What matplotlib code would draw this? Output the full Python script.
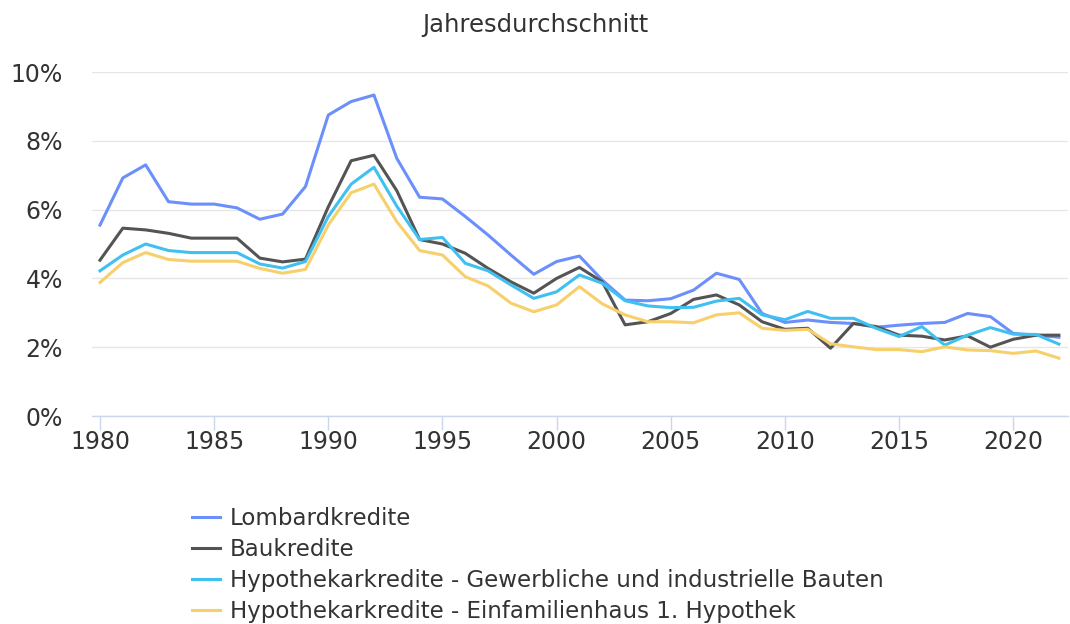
import matplotlib
matplotlib.use("Agg")
import matplotlib.pyplot as plt
from matplotlib.ticker import FuncFormatter

plt.rcParams['font.family'] = ['DejaVu Sans']

jahre = list(range(1980, 2023))

# Werte (in Prozent)
lombard = [5.55, 6.92, 7.30, 6.23, 6.16, 6.16, 6.05, 5.72, 5.87, 6.67,
           8.75, 9.14, 9.33, 7.49, 6.36, 6.31, 5.80, 5.26, 4.68, 4.12,
           4.49, 4.65, 3.95, 3.37, 3.35, 3.41, 3.66, 4.15, 3.97, 2.98,
           2.72, 2.79, 2.72, 2.69, 2.58, 2.64, 2.69, 2.72, 2.98, 2.89,
           2.40, 2.35, 2.29]
baukredite = [4.53, 5.46, 5.41, 5.31, 5.17, 5.17, 5.17, 4.59, 4.48, 4.56,
              6.08, 7.42, 7.58, 6.55, 5.13, 5.00, 4.73, 4.29, 3.90, 3.57,
              4.00, 4.32, 3.90, 2.65, 2.74, 2.98, 3.39, 3.52, 3.23, 2.74,
              2.52, 2.55, 1.97, 2.69, 2.60, 2.35, 2.32, 2.21, 2.33, 2.00,
              2.23, 2.35, 2.35]
gewerbe = [4.22, 4.68, 5.00, 4.81, 4.75, 4.75, 4.75, 4.42, 4.30, 4.49,
           5.80, 6.74, 7.23, 6.10, 5.13, 5.19, 4.44, 4.22, 3.81, 3.42,
           3.61, 4.10, 3.86, 3.35, 3.20, 3.15, 3.16, 3.34, 3.42, 2.94,
           2.80, 3.04, 2.84, 2.84, 2.55, 2.31, 2.60, 2.06, 2.35, 2.57,
           2.38, 2.37, 2.09]
einfamilienhaus = [3.88, 4.46, 4.75, 4.55, 4.50, 4.50, 4.50, 4.29, 4.15, 4.26,
                   5.55, 6.49, 6.74, 5.65, 4.81, 4.68, 4.05, 3.78, 3.28, 3.03,
                   3.23, 3.76, 3.26, 2.94, 2.74, 2.74, 2.71, 2.94, 3.00, 2.55,
                   2.49, 2.52, 2.10, 2.01, 1.93, 1.93, 1.87, 2.01, 1.92, 1.90,
                   1.82, 1.89, 1.68]

serien = [
    ("Lombardkredite", lombard, "#6b8ffb"),
    ("Baukredite", baukredite, "#545454"),
    ("Hypothekarkredite - Gewerbliche und industrielle Bauten", gewerbe, "#3fc0f0"),
    ("Hypothekarkredite - Einfamilienhaus 1. Hypothek", einfamilienhaus, "#f7cf6b"),
]

fig = plt.figure(figsize=(10.7, 6.24), dpi=100)
ax = fig.add_axes([92 / 1070, 1 - 416 / 624, 976 / 1070, 344 / 624])

for name, werte, farbe in serien:
    ax.plot(jahre, werte, color=farbe, linewidth=2.2, label=name, solid_joinstyle='round')

ax.set_xlim(1979.65, 2022.4)
ax.set_ylim(0, 10)
ax.set_yticks([0, 2, 4, 6, 8, 10])
ax.yaxis.set_major_formatter(FuncFormatter(lambda v, p: f"{v:.0f}%"))
ax.set_xticks(range(1980, 2021, 5))

ax.grid(axis='y', color='#e6e6e6', linewidth=1)
ax.set_axisbelow(True)
for s in ['top', 'right', 'left']:
    ax.spines[s].set_visible(False)
ax.spines['bottom'].set_color('#ccd6eb')
ax.spines['bottom'].set_linewidth(1)
ax.tick_params(axis='y', length=0, pad=21, labelsize=17, labelcolor='#333333')
ax.tick_params(axis='x', length=10, width=1, color='#ccd6eb', pad=0,
               labelsize=17, labelcolor='#333333')

fig.text(0.5, 1 - 25 / 624, "Jahresdurchschnitt", ha='center', va='center',
         fontsize=17.5, color='#333333')

fig.legend(loc='upper left', bbox_to_anchor=(171 / 1070, 1 - 486 / 624),
           frameon=False, fontsize=16.5, handlelength=1.25, handletextpad=0.42,
           labelspacing=0.355, labelcolor='#333333')

fig.savefig("out.png", dpi=100)
